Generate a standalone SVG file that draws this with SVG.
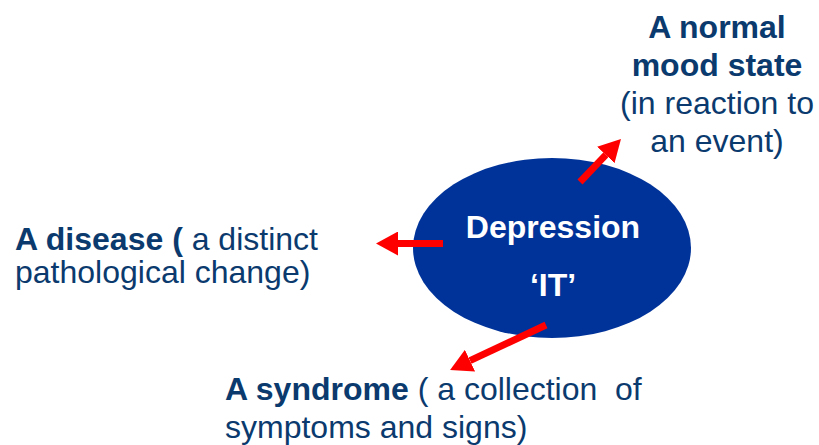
<svg xmlns="http://www.w3.org/2000/svg" width="819" height="445" viewBox="0 0 819 445">
<style>
.t{font-family:"Liberation Sans",Arial,sans-serif;font-size:32px;fill:#0b3a6e}
.b{font-weight:bold}
.w{font-family:"Liberation Sans",Arial,sans-serif;font-size:32px;font-weight:bold;fill:#ffffff}
.c{stroke:#ff0000;stroke-width:7;fill:none}
</style>
<defs>
<marker id="ah" viewBox="0 0 22 24" refX="0" refY="12" markerWidth="22" markerHeight="24" markerUnits="userSpaceOnUse" orient="auto">
<path d="M0,0 L22,12 L0,24 z" fill="#ff0000"/>
</marker>
</defs>
<rect width="819" height="445" fill="#ffffff"/>
<g id="depression">
<ellipse cx="552" cy="248" rx="139" ry="90" fill="#003399"/>
<text class="w" x="553" y="238" text-anchor="middle">Depression</text>
<text class="w" x="553" y="296" text-anchor="middle">‘IT’</text>
</g>
<g id="normal-mood">
<text class="t b" x="717" y="38" text-anchor="middle">A normal</text>
<text class="t b" x="717" y="76" text-anchor="middle">mood state</text>
<text class="t" x="717" y="114" text-anchor="middle">(in reaction to</text>
<text class="t" x="717" y="152" text-anchor="middle">an event)</text>
</g>
<g id="disease">
<text class="t" x="15" y="250"><tspan class="b">A disease (</tspan> a distinct</text>
<text class="t" x="15" y="283">pathological change)</text>
</g>
<g id="syndrome">
<text class="t" x="225" y="400" xml:space="preserve"><tspan class="b">A syndrome</tspan> ( a collection  of</text>
<text class="t" x="225" y="438">symptoms and signs)</text>
</g>
<g id="connectors">
<path class="c" d="M443,243.5 L398,243.5" marker-end="url(#ah)"/>
<path class="c" d="M546,325 L470,360.7" marker-end="url(#ah)"/>
<path class="c" d="M580,182 L605.8,154.9" marker-end="url(#ah)"/>
</g>
</svg>
